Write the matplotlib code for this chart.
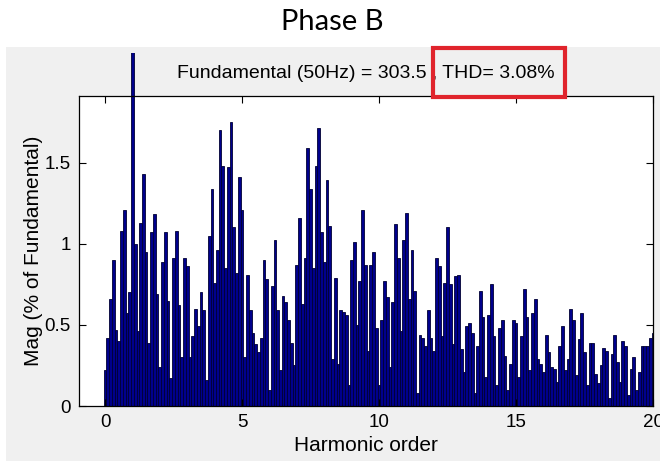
import numpy as np
import matplotlib.pyplot as plt
from matplotlib.patches import Rectangle

W, H = 660, 461

# FFT magnitude in % of fundamental, one bar every 0.1 harmonic order
mag_0_5 = [0.22, 0.42, 0.66, 0.90, 0.47, 0.40, 1.08, 1.21, 0.57, 0.70,
           100.0,
           1.00, 0.46, 1.13, 1.43, 0.95, 0.39, 1.07, 1.18, 0.69, 0.24,
           0.89, 1.07, 0.65, 0.17, 0.91, 1.08, 0.62, 0.30, 0.91, 0.86,
           0.30, 0.43, 0.60, 0.49, 0.70, 0.59, 0.16, 1.05, 1.34, 0.76,
           0.96, 1.70, 1.48, 0.85, 1.47, 1.75, 1.10, 0.82, 1.41, 1.21]
mag_5_12 = [0.30, 0.81, 0.59, 0.45, 0.38, 0.33, 0.42, 0.90, 0.78, 0.10,
            0.74, 1.02, 0.59, 0.22, 0.68, 0.64, 0.53, 0.39, 0.25, 0.87,
            1.16, 0.63, 0.91, 1.59, 1.34, 0.85, 1.48, 1.71, 1.07, 0.89,
            1.39, 1.11, 0.29, 0.79, 0.26, 0.59, 0.58, 0.56, 0.13, 0.90,
            1.01, 0.50, 0.77, 1.21, 0.87, 0.34, 0.87, 0.95, 0.48, 0.13,
            0.53, 0.77, 0.67, 0.24, 0.64, 1.12, 0.91, 0.46, 1.02, 1.19,
            0.66, 0.96, 0.71, 0.08, 0.44, 0.42, 0.37, 0.59, 0.42, 0.34, 0.91]
mag_12_20 = [0.86, 0.43, 0.76, 1.10, 0.75, 0.38, 0.80, 0.81, 0.35, 0.21,
             0.49, 0.51, 0.45, 0.08, 0.37, 0.71, 0.55, 0.18, 0.56, 0.75,
             0.43, 0.13, 0.48, 0.53, 0.31, 0.10, 0.26, 0.53, 0.51, 0.18,
             0.43, 0.72, 0.55, 0.22, 0.57, 0.66, 0.29, 0.26, 0.21, 0.44,
             0.33, 0.24, 0.23, 0.15, 0.37, 0.49, 0.22, 0.29, 0.60, 0.53,
             0.19, 0.41, 0.57, 0.33, 0.13, 0.39, 0.39, 0.20, 0.14, 0.25,
             0.36, 0.34, 0.05, 0.32, 0.44, 0.27, 0.15, 0.40, 0.37, 0.07,
             0.23, 0.30, 0.10, 0.21, 0.37, 0.37, 0.37, 0.42, 0.45]
step = 0.1
fund_idx = 10

xticks = [0, 5, 10, 15, 20]
yticks = [0, 0.5, 1, 1.5]
ytick_labels = ['0', '0.5', '1', '1.5']

mag = np.array(mag_0_5 + mag_5_12 + mag_12_20)
order = np.arange(len(mag)) * step

matlab_font = ['Liberation Sans', 'DejaVu Sans']

fig = plt.figure(figsize=(W / 100, H / 100), dpi=100)
fig.patch.set_facecolor('white')
# grey matlab figure panel, kept behind the axes
panel = Rectangle((6 / W, 0), 1 - 6 / W, (H - 47) / H, transform=fig.transFigure,
                  facecolor='#f0f0f0', edgecolor='none', zorder=-10)
fig.add_artist(panel)

ax = fig.add_axes([79 / W, (H - 406) / H, (653 - 79) / W, (406 - 96) / H])
bars = ax.bar(order, mag, width=step, color=(0, 0, 0.55), edgecolor=(0, 0, 0.2), linewidth=0.6)

# fundamental sticks out above the axes
clip = Rectangle((0, 0), 1, (406 - 53) / (406 - 96), transform=ax.transAxes)
bars[fund_idx].set_clip_path(clip)

ax.set_xlim(-0.95, 20)
ax.set_ylim(0, 1.91)
ax.set_xticks(xticks)
ax.set_xticklabels([str(t) for t in xticks])
ax.set_yticks(yticks)
ax.set_yticklabels(ytick_labels)
ax.tick_params(direction='in', top=True, right=True, length=5, width=0.8, labelsize=13.5, pad=6)
for lab in ax.get_xticklabels() + ax.get_yticklabels():
    lab.set_family(matlab_font)
for s in ax.spines.values():
    s.set_linewidth(0.9)

ax.set_xlabel('Harmonic order', fontsize=15, family=matlab_font, labelpad=3)
ax.set_ylabel('Mag (% of Fundamental)', fontsize=15, family=matlab_font, labelpad=1)

fig.text(332 / W, 1 - 22 / H, 'Phase B', ha='center', va='center', fontsize=21, family=['Lato', 'DejaVu Sans'])
fig.text(366 / W, 1 - 73 / H, 'Fundamental (50Hz) = 303.5 , THD= 3.08%', ha='center', va='center',
         fontsize=14, family=matlab_font)

fig.add_artist(Rectangle((433 / W, 1 - 97 / H), (565 - 433) / W, (97 - 48) / H, transform=fig.transFigure,
                         fill=False, edgecolor='#e0242c', linewidth=3, zorder=5))

fig.savefig('out.png', dpi=100)
